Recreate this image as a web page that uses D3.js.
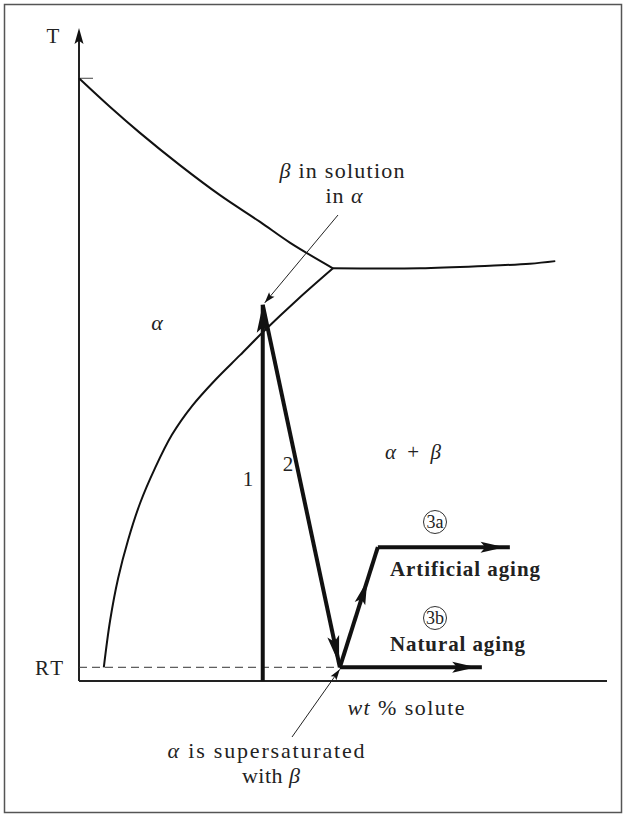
<!DOCTYPE html>
<html>
<head>
<meta charset="utf-8">
<script src="https://cdn.jsdelivr.net/npm/d3@7"></script>
<style>
  body { margin: 0; background: #fff; }
  text { font-family: "Liberation Serif", "DejaVu Serif", serif; fill: #222; }
</style>
</head>
<body>
<div id="chart"></div>
<script>
// phase boundaries (composition in wt %, temperature in arbitrary units)
var solvusX = [0.47, 0.59, 0.74, 0.93, 1.16, 1.44, 1.76, 2.14, 2.58, 3.05, 3.48, 4.15, 4.81];
var solvusT = [2.1, 9.3, 15.7, 21.6, 27.3, 32.6, 37.7, 42.1, 46.1, 49.9, 53.4, 58.5, 63.2];
var liquidusX = [0, 0.59, 1.16, 1.91, 2.67, 3.43, 4.0, 4.81];
var liquidusT = [92.3, 87.9, 83.9, 79.0, 74.4, 70.3, 67.1, 63.2];
var upperX = [4.81, 6.46, 7.78, 8.54, 9.02];
var upperT = [63.2, 63.2, 63.6, 63.9, 64.3];

// heat treatment steps
var tMelt = 92.3, tSolution = 57.6, tRT = 2.1, tAge = 20.5;
var cAlloy = 3.48, cQuench = 4.94, cAgeStart = 5.66, cAgeEnd = 8.16, cNatEnd = 7.63;

var width = 625, height = 816;

var svg = d3.select("#chart")
    .append("svg")
    .attr("width", width)
    .attr("height", height);

// frame
svg.append("rect")
    .attr("x", 4.5).attr("y", 4.5)
    .attr("width", 617).attr("height", 808)
    .attr("fill", "none")
    .attr("stroke", "#555")
    .attr("stroke-width", 1.5);

var x = d3.scaleLinear().domain([0, 10]).range([79, 607]);
var y = d3.scaleLinear().domain([0, 100]).range([681, 28]);

var line = d3.line()
    .x(function(d) { return x(d[0]); })
    .y(function(d) { return y(d[1]); })
    .curve(d3.curveCatmullRom);

function zip(a, b) { return a.map(function(v, i) { return [v, b[i]]; }); }

// axes
svg.append("line")
    .attr("x1", x(0)).attr("y1", y(0))
    .attr("x2", x(10)).attr("y2", y(0))
    .attr("stroke", "#222").attr("stroke-width", 2);
svg.append("line")
    .attr("x1", x(0)).attr("y1", y(0))
    .attr("x2", x(0)).attr("y2", y(100) + 4)
    .attr("stroke", "#222").attr("stroke-width", 2);

// arrowhead helper: tip at point p, pointing along direction from q to p
function head(p, q, len, hw) {
  var dx = p[0] - q[0], dy = p[1] - q[1];
  var d = Math.sqrt(dx * dx + dy * dy);
  var ux = dx / d, uy = dy / d;
  var bx = p[0] - ux * len, by = p[1] - uy * len;
  svg.append("path")
      .attr("d", "M" + p[0] + "," + p[1] +
                 "L" + (bx - uy * hw) + "," + (by + ux * hw) +
                 "L" + (p[0] - ux * len * 0.8) + "," + (p[1] - uy * len * 0.8) +
                 "L" + (bx + uy * hw) + "," + (by - ux * hw) + "Z")
      .attr("fill", "#111");
}
function along(a, b, f) { return [a[0] + (b[0] - a[0]) * f, a[1] + (b[1] - a[1]) * f]; }

head([x(0), y(100)], [x(0), y(90)], 16, 4.5);

// melting point tick
svg.append("line")
    .attr("x1", x(0)).attr("y1", y(tMelt))
    .attr("x2", x(0) + 14).attr("y2", y(tMelt))
    .attr("stroke", "#444").attr("stroke-width", 1);

// boundaries
[zip(liquidusX, liquidusT), zip(upperX, upperT), zip(solvusX, solvusT)].forEach(function(pts) {
  svg.append("path")
      .attr("d", line(pts))
      .attr("fill", "none")
      .attr("stroke", "#111")
      .attr("stroke-width", 2);
});

// room temperature dashed line
svg.append("line")
    .attr("x1", x(0)).attr("y1", y(tRT))
    .attr("x2", x(cQuench)).attr("y2", y(tRT))
    .attr("stroke", "#333").attr("stroke-width", 1)
    .attr("stroke-dasharray", "8,5");

// heat treatment path
var pA = [x(cAlloy), y(0)], pB = [x(cAlloy), y(tSolution)], pC = [x(cQuench), y(tRT)];
var pD = [x(cAgeStart), y(tAge)], pE = [x(cAgeEnd), y(tAge)], pF = [x(cNatEnd), y(tRT)];
var segs = [[pA, pB], [pB, pC], [pC, pD], [pD, pE], [pC, pF]];
segs.forEach(function(s) {
  svg.append("line")
      .attr("x1", s[0][0]).attr("y1", s[0][1])
      .attr("x2", s[1][0]).attr("y2", s[1][1])
      .attr("stroke", "#111").attr("stroke-width", 4);
});
head(pB, pA, 28, 6);
head(along(pB, pC, 0.99), pB, 28, 6);
head(along(pC, pD, 0.72), pC, 24, 5.5);
head(along(pD, pE, 0.96), pD, 24, 5.5);
head(along(pC, pF, 0.96), pC, 24, 5.5);

// pointer lines
function pointer(from, to) {
  svg.append("line")
      .attr("x1", from[0]).attr("y1", from[1])
      .attr("x2", to[0]).attr("y2", to[1])
      .attr("stroke", "#222").attr("stroke-width", 1);
  head(to, from, 11, 3.5);
}
pointer([338, 215], [pB[0] + 2, pB[1] - 2]);
pointer([292, 737], [pC[0], pC[1] + 2]);

// labels; w = width of the label in the figure
function label(tx, ty, parts, size, anchor, weight, w) {
  var t = svg.append("text")
      .attr("x", tx).attr("y", ty)
      .attr("font-size", size)
      .attr("text-anchor", anchor || "start")
      .attr("font-weight", weight || "normal");
  if (w) t.attr("textLength", w).attr("lengthAdjust", "spacing");
  parts.forEach(function(p) {
    t.append("tspan").attr("font-style", p[1] ? "italic" : "normal").text(p[0]);
  });
}
label(53, 43, [["T"]], 21, "middle");
label(49, 675, [["RT"]], 21, "middle", "normal", 28);
label(157, 330, [["α", true]], 22, "middle");
label(413, 459, [["α", true], [" + "], ["β", true]], 21, "middle", "normal", 56);
label(248, 486, [["1"]], 21, "middle");
label(288, 471, [["2"]], 21, "middle");
label(342, 178, [["β", true], [" in solution"]], 22, "middle", "normal", 125);
label(344, 203, [["in "], ["α", true]], 22, "middle", "normal", 37);
label(406, 715, [["wt", true], [" % solute"]], 22, "middle", "normal", 117);
label(266, 758, [["α", true], [" is supersaturated"]], 22, "middle", "normal", 197);
label(271, 783, [["with "], ["β", true]], 22, "middle", "normal", 58);
label(390, 576, [["Artificial aging"]], 21, "start", "bold", 150);
label(390, 651, [["Natural aging"]], 21, "start", "bold", 135);

// circled step numbers
[["3a", 435, 522], ["3b", 435, 618]].forEach(function(c) {
  svg.append("circle")
      .attr("cx", c[1]).attr("cy", c[2]).attr("r", 11.5)
      .attr("fill", "none").attr("stroke", "#333").attr("stroke-width", 1);
  svg.append("text")
      .attr("x", c[1]).attr("y", c[2] + 6)
      .attr("font-size", 18)
      .attr("text-anchor", "middle")
      .text(c[0]);
});
</script>
</body>
</html>
